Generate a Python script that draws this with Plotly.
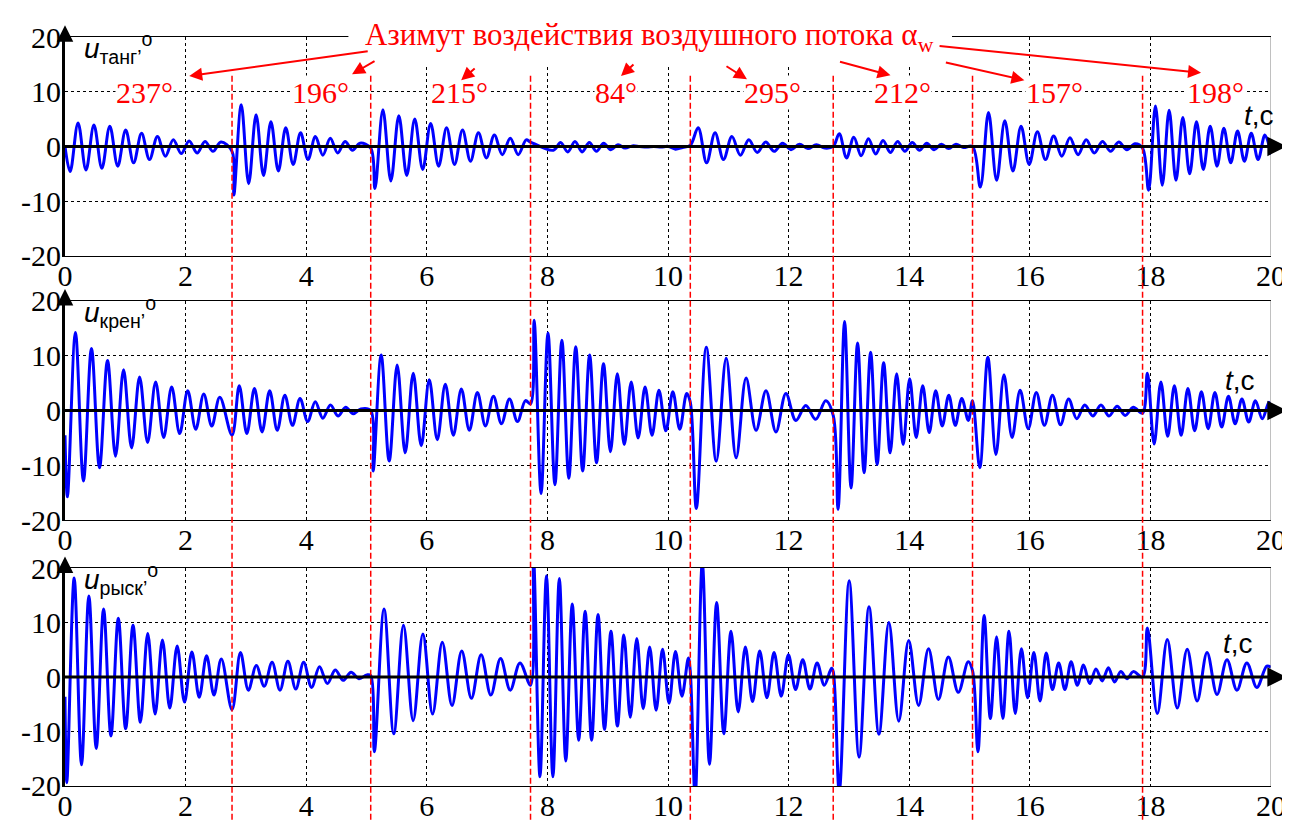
import plotly.graph_objects as go

# ---------------- data ----------------
switch_t = [0.0, 2.77, 5.07, 7.72, 10.37, 12.74, 15.05, 17.87]
azimuth_text = ["237°", "196°", "215°", "84°", "295°", "212°", "157°", "198°"]
azimuth_t = [1.32, 4.24, 6.54, 9.14, 11.73, 13.89, 16.41, 19.08]
x_ticks = [0, 2, 4, 6, 8, 10, 12, 14, 16, 18, 20]
y_ticks = [-20, -10, 0, 10, 20]
y_ticktext = ["-20", "-10", "0", "10", "20"]

# panel 1: u_tang
tang_switch_val = [0.0, -0.9, -0.3, 0.8, 0.2, 0.0, 0.0, -0.3]
tang_first_t = [0.085, 2.80, 5.14, 8.10, 10.50, 12.84, 15.18, 17.97]
tang_half_period = [0.1316, 0.123, 0.132, 0.119, 0.14, 0.121, 0.135, 0.1135]
tang_extrema = [
    [-4.6, 4.3, -4.3, 3.9, -4.0, 3.7, -3.6, 3.0, -3.0, 2.4, -2.4, 1.8, -1.8, 1.2, -1.3, 1.0, -1.2, 0.9, -0.9, 0.8],
    [-8.9, 7.6, -6.8, 5.8, -5.3, 4.5, -4.5, 3.4, -3.3, 2.5, -2.4, 1.8, -1.6, 1.5, -1.2, 0.9, -0.7, 0.6],
    [-7.7, 6.7, -6.3, 5.6, -5.3, 5.0, -4.2, 4.2, -3.6, 3.4, -3.3, 3.0, -2.7, 2.5, -2.1, 2.1, -1.5, 1.5, -1.5, 1.2],
    [-0.7, 0.7, -1.0, 0.9, -1.0, 0.7, -0.9, 0.6, -0.6, 0.3, -0.3, 0.1, 0.0, -0.1, 0.0, -0.1, 0.0, -0.5, -0.2],
    [3.4, -3.0, 2.5, -2.4, 1.8, -1.6, 1.2, -1.1, 0.8, -0.9, 0.6, -0.6, 0.4, -0.4, 0.3, -0.3],
    [2.3, -2.1, 1.7, -1.7, 1.4, -1.4, 1.1, -1.1, 0.9, -0.9, 0.7, -0.7, 0.6, -0.6, 0.4, -0.4, 0.4, -0.2],
    [-7.4, 6.2, -6.2, 4.7, -4.5, 3.7, -3.3, 2.7, -2.4, 1.9, -1.8, 1.6, -1.5, 1.2, -1.2, 0.9, -0.9, 0.8, -0.6, 0.5],
    [-8.0, 7.4, -7.1, 6.6, -6.2, 5.3, -5.0, 4.5, -4.2, 3.7, -3.6, 3.3, -3.0, 2.8, -2.7, 2.4, -2.4, 2.1],
]
tang_end = -1.5

# panel 2: u_kren
kren_switch_val = [-4.5, -4.5, 0.0, 1.2, 1.5, -0.9, 1.8, -0.5]
kren_first_t = [0.04, 2.89, 5.11, 7.78, 10.47, 12.82, 15.17, 17.95]
kren_half_period = [0.133, 0.126, 0.133, 0.115, 0.165, 0.108, 0.134, 0.112]
kren_extrema = [
    [-15.7, 14.2, -12.8, 11.3, -10.4, 9.1, -8.3, 7.4, -6.8, 6.1, -5.8, 5.2, -4.9, 4.3, -4.2, 3.6, -3.4, 3.0, -2.8, 2.4],
    [4.5, -4.2, 4.0, -3.9, 3.6, -3.6, 2.8, -2.7, 2.2, -2.0, 1.6, -1.4, 1.0, -1.0, 0.6, -0.6, 0.3],
    [-11.0, 10.1, -9.2, 8.3, -7.7, 6.8, -6.4, 5.6, -5.3, 4.8, -4.5, 3.9, -3.6, 3.3, -2.8, 2.6, -2.4, 2.1, -2.0, 1.8],
    [16.4, -15.1, 14.1, -13.5, 12.8, -12.3, 11.6, -11.0, 10.1, -9.5, 8.5, -7.5, 6.7, -6.2, 5.2, -5.0, 4.3, -4.5, 3.7, -3.7, 3.4, -3.4, 3.1],
    [-17.8, 11.5, -9.2, 9.5, -8.6, 5.9, -3.6, 3.6, -3.9, 3.1, -1.8, 0.9, -1.6, 1.8],
    [-18.0, 16.2, -14.1, 12.3, -11.3, 10.6, -9.8, 8.7, -7.7, 6.7, -6.2, 5.8, -4.9, 4.5, -4.0, 3.6, -2.8, 2.8, -2.7, 2.2, -1.8],
    [-10.4, 9.7, -8.0, 6.5, -4.9, 3.7, -3.3, 3.3, -2.7, 2.8, -2.6, 2.1, -1.5, 1.0, -1.0, 1.0, -1.0, 0.8, -0.9, 0.6],
    [6.8, -6.1, 5.2, -4.7, 4.5, -4.5, 4.0, -3.7, 3.4, -3.3, 3.3, -3.0, 2.6, -2.4, 2.1, -2.1, 1.8, -1.5, 1.5],
]
kren_end = 0.5

# panel 3: u_rysk
rysk_switch_val = [-3.6, -6.0, 0.3, -1.5, 1.0, 1.0, 1.2, 0.0]
rysk_first_t = [0.03, 2.91, 5.13, 7.77, 10.45, 12.84, 15.14, 17.95]
rysk_half_period = [0.122, 0.131, 0.161, 0.107, 0.119, 0.1645, 0.103, 0.165]
rysk_extrema = [
    [-19.4, 18.2, -16.1, 14.9, -13.1, 12.5, -10.8, 10.8, -9.5, 9.5, -8.3, 8.0, -6.8, 6.8, -5.7, 5.7, -4.6, 4.6, -3.7, 3.9, -3.3, 3.3],
    [4.5, -2.4, 2.1, -1.7, 2.7, -2.4, 2.9, -2.2, 2.7, -1.9, 1.9, -1.2, 1.3, -0.6, 0.9, -0.3, 0.4],
    [-13.7, 12.5, -10.4, 9.5, -8.0, 7.9, -6.8, 6.4, -5.2, 4.8, -3.9, 4.1, -3.3, 3.4, -2.4, 2.6],
    [22.0, -18.3, 18.6, -18.3, 18.1, -15.4, 13.4, -11.6, 12.1, -11.6, 11.5, -9.6, 8.4, -9.0, 7.7, -7.4, 7.1, -5.8, 5.5, -6.1, 5.1, -4.8, 4.7, -3.5, 3.5],
    [-22.0, 21.0, -16.0, 13.7, -10.4, 8.4, -6.4, 5.5, -4.5, 4.8, -3.8, 4.5, -3.5, 4.1, -2.3, 3.2, -2.2, 2.6, -1.5, 1.6],
    [-21.0, 17.7, -14.7, 12.9, -10.5, 10.0, -8.1, 6.7, -5.2, 5.2, -4.1, 3.7, -2.8, 2.8],
    [-13.7, 11.3, -7.6, 7.4, -7.6, 8.4, -6.7, 5.2, -3.8, 4.5, -4.4, 4.4, -2.3, 2.6, -2.3, 2.8, -1.5, 2.2, -1.2, 1.5, -0.7, 1.7, -0.9, 1.0, -0.3, 1.0],
    [9.0, -6.7, 6.9, -5.7, 5.1, -4.4, 4.5, -3.2, 3.2, -2.4, 2.6, -1.9, 2.0],
]
rysk_end = 1.8

panel_labels = ["танг", "крен", "рыск"]
tc_x = [19.8, 19.48, 19.45]
tc_y = [5.6, 5.5, 6.2]


def build_series(sw_val, first_t, half, extrema, end_val):
    xs, ys = [], []
    for i, t_sw in enumerate(switch_t):
        xs.append(t_sw)
        ys.append(sw_val[i])
        for k, v in enumerate(extrema[i]):
            xs.append(round(first_t[i] + k * half[i], 4))
            ys.append(v)
    xs.append(20.0)
    ys.append(end_val)
    return xs, ys


series = [
    build_series(tang_switch_val, tang_first_t, tang_half_period, tang_extrema, tang_end),
    build_series(kren_switch_val, kren_first_t, kren_half_period, kren_extrema, kren_end),
    build_series(rysk_switch_val, rysk_first_t, rysk_half_period, rysk_extrema, rysk_end),
]

# ---------------- figure ----------------
W, H = 1290, 826
ML, MR, MT, MB = 57, 16, 25, 31
PLOT_H = H - MT - MB
PLOT_W = W - ML - MR
domains = [[0.7078, 1.0], [0.3545, 0.6481], [0.0, 0.2909]]
SERIF = "Liberation Serif"
SANS = "Liberation Sans"

fig = go.Figure()
for p, (xs, ys) in enumerate(series):
    sfx = "" if p == 0 else str(p + 1)
    fig.add_trace(go.Scatter(
        x=xs, y=ys, mode="lines",
        line=dict(color="#0000FF", width=3, shape="spline", smoothing=1.0),
        xaxis="x" + sfx, yaxis="y" + sfx, showlegend=False, hoverinfo="skip",
    ))

tick_font = dict(family=SERIF, size=30, color="black")
layout = dict(
    width=W, height=H,
    margin=dict(l=ML, r=MR, t=MT, b=MB),
    paper_bgcolor="white", plot_bgcolor="white",
    showlegend=False,
)
for p in range(3):
    sfx = "" if p == 0 else str(p + 1)
    layout["xaxis" + sfx] = dict(
        domain=[0, 1], range=[0, 20], anchor="y" + sfx,
        tickmode="array", tickvals=x_ticks, ticks="", ticklabelstandoff=-7,
        showgrid=True, gridcolor="black", gridwidth=1, griddash="dot",
        showline=True, mirror=True, linecolor="black", linewidth=1,
        zeroline=False, tickfont=tick_font, fixedrange=True,
    )
    layout["yaxis" + sfx] = dict(
        domain=domains[p], range=[-20, 20], anchor="x" + sfx,
        tickmode="array", tickvals=y_ticks, ticktext=y_ticktext, ticks="",
        ticklabelstandoff=-5,
        showgrid=True, gridcolor="black", gridwidth=1, griddash="dot",
        showline=True, linecolor="black", linewidth=3,
        zeroline=False, tickfont=tick_font, fixedrange=True,
    )
fig.update_layout(**layout)

shapes = []
annotations = []

# red dashed switch lines across all panels
for t_sw in switch_t[1:]:
    shapes.append(dict(type="line", xref="x", yref="paper", x0=t_sw, x1=t_sw,
                       y0=-0.045, y1=0.949,
                       line=dict(color="#FF0000", width=1.5, dash="6px,3px"), layer="above"))

# white box behind the title
shapes.append(dict(type="rect", xref="x", yref="paper", x0=4.70, x1=14.71, y0=0.961, y1=1.05,
                   fillcolor="white", line=dict(width=0), layer="above"))

# azimuth labels (drawn first so other texts sit on top)
for txt, tx in zip(azimuth_text, azimuth_t):
    annotations.append(dict(x=tx, y=9.8, xref="x", yref="y", text=txt, showarrow=False,
                            bgcolor="white", borderpad=0,
                            font=dict(family=SERIF, size=30, color="#FF0000")))

for p in range(3):
    sfx = "" if p == 0 else str(p + 1)
    xr, yr = "x" + sfx, "y" + sfx
    top = domains[p][1]
    # right border (grey)
    shapes.append(dict(type="line", xref=xr, yref=yr, x0=20, x1=20, y0=-20, y1=20,
                       line=dict(color="#808080", width=1), layer="above"))
    # bold time axis
    shapes.append(dict(type="line", xref=xr, yref=yr, x0=0, x1=20, y0=0, y1=0,
                       line=dict(color="black", width=3), layer="above"))
    # arrow heads of axes
    annotations.append(dict(x=(W - ML) / PLOT_W, y=0, xref="paper", yref=yr, ax=-20, ay=0,
                            text="", showarrow=True, arrowhead=2, arrowsize=1.3,
                            arrowwidth=3, arrowcolor="black"))
    annotations.append(dict(x=0, y=top + 12 / PLOT_H, xref=xr, yref="paper", ax=0, ay=14,
                            text="", showarrow=True, arrowhead=2, arrowsize=1.1,
                            arrowwidth=3, arrowcolor="black"))
    # y label
    annotations.append(dict(x=0.28, y=top + 11 / PLOT_H, xref=xr, yref="paper",
                            xanchor="left", yanchor="top",
                            text="<i>u</i><sub>" + panel_labels[p] + "’</sub><sup>o</sup>",
                            showarrow=False,
                            font=dict(family=SANS, size=28, color="black")))
    # t,c label
    annotations.append(dict(x=tc_x[p], y=tc_y[p], xref=xr, yref=yr, text="<i>t</i>,c",
                            showarrow=False, font=dict(family=SANS, size=28, color="black")))

# title
annotations.append(dict(x=(647 - ML) / PLOT_W, y=(H - MB - 25) / PLOT_H, xref="paper",
                        yref="paper", xanchor="center", yanchor="middle",
                        text="Азимут воздействия воздушного потока α<sub>w</sub>",
                        showarrow=False,
                        font=dict(family=SERIF, size=31, color="#FF0000")))

# red arrows from title to labels (head position in data, tail offset in px)
arrow_heads = [(2.06, 12.86, 180, -25), (4.76, 13.2, 24, -14), (6.57, 12.1, 15, -13),
               (9.22, 12.86, 14, -13), (11.31, 12.27, -22, -14), (13.69, 13.0, -52, -14),
               (15.91, 12.1, -80, -18), (18.84, 13.45, -263, -27)]
for hx, hy, axp, ayp in arrow_heads:
    annotations.append(dict(x=hx, y=hy, xref="x", yref="y", ax=axp, ay=ayp, text="",
                            showarrow=True, arrowhead=2, arrowsize=1.3, arrowwidth=2,
                            arrowcolor="#FF0000"))

fig.update_layout(shapes=shapes, annotations=annotations)
fig.write_html("out.html")
